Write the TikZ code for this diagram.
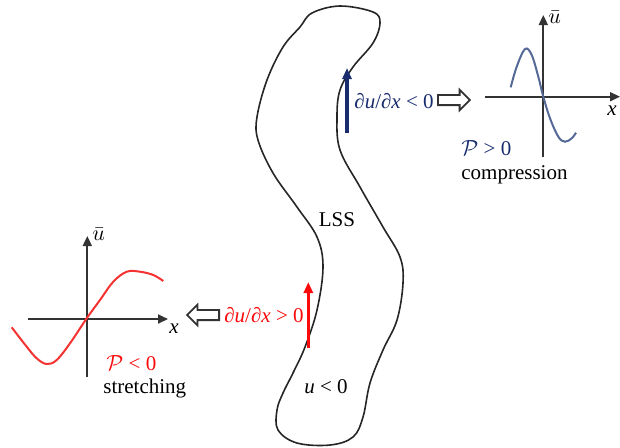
\documentclass[tikz,border=0pt]{standalone}
\usepackage{fontspec}
\setmainfont{Liberation Serif}
\usetikzlibrary{arrows.meta,shapes.arrows}
\definecolor{navy}{RGB}{25,45,110}
\definecolor{curveblue}{RGB}{85,105,150}
\definecolor{gradred}{RGB}{250,10,10}
\definecolor{curvered}{RGB}{245,50,50}

\begin{document}
\begin{tikzpicture}[x=0.5pt, y=-0.5pt,
    font=\fontsize{10.5}{12}\selectfont,
    axis/.style={-{Triangle[length=5pt,width=4.5pt]}, line width=0.9pt, black!80},
    grad/.style={-{Triangle[length=5.5pt,width=4.5pt]}, line width=1.6pt},
    hollow/.style={single arrow, draw=black!80, line width=0.9pt, fill=white, minimum height=16pt, minimum width=9.5pt, single arrow head extend=2.6pt, inner xsep=0pt, inner ysep=2.1pt},
    lbl/.style={inner sep=1pt}
]
\useasboundingbox (0,0) rectangle (620,447);

% LSS outline
\draw[line width=0.8pt, black!85] plot[smooth cycle, tension=0.6] coordinates {
  (312,13) (340,6) (373,12) (380,23) (373,43) (353,67) (340,90) (337,117)
  (340,150) (360,187) (383,227) (400,257) (403,283) (397,320) (383,350)
  (370,383) (363,417) (353,437) (330,445) (297,443) (278,430) (277,410)
  (283,393) (293,373) (305,347) (317,310) (323,267) (317,237) (297,207)
  (273,173) (258,140) (257,117) (267,80) (283,47) (300,27)};
\node[lbl] (lss) at (337,220) {LSS};
\node[lbl] (uneg) at (326,387) {\textit{u} < 0};

% compression side
\coordinate (bS) at (347,133);
\coordinate (bE) at (347,68);
\draw[grad, navy] (bS) -- (bE);
\node[lbl, navy, anchor=west] (dneg) at (352,101) {∂\textit{u}/∂\textit{x} < 0};
\node[hollow, anchor=tail] (harR) at (437,100) {};

\coordinate (oR) at (543.3,96.7);
\coordinate (xR0) at (485,96.7);
\coordinate (xR1) at (620,96.7);
\coordinate (yR0) at (543.3,157);
\coordinate (yR1) at (543.3,15);
\draw[axis] (xR0) -- (xR1);
\draw[axis] (yR0) -- (yR1);
\node[lbl, anchor=west] (ubarR) at (546,17) {$\bar{u}$};
\node[lbl] (xlabR) at (612,111) {\textit{x}};
\draw[curveblue, line width=1pt] plot[smooth, tension=0.6] coordinates {
  (510.7,87.3) (516.7,66.7) (525,49) (531.7,55) (538.3,76.7) (543.3,96.7)
  (550,118.3) (558.3,136.7) (565,141.7) (571.7,138.3) (576,132.7)};
\node[lbl, navy, anchor=west] (pgt) at (459,148) {$\mathcal{P}$ > 0};
\node[lbl, anchor=west] (comp) at (459,175) {compression};

% stretching side
\coordinate (rS) at (308.3,348);
\coordinate (rE) at (308.3,282);
\draw[grad, gradred] (rS) -- (rE);
\node[lbl, gradred, anchor=east] (dpos) at (306,315) {∂\textit{u}/∂\textit{x} > 0};
\node[hollow, anchor=tail, shape border rotate=180] (harL) at (220,315) {};

\coordinate (oL) at (87.3,319);
\coordinate (xL0) at (28.3,319);
\coordinate (xL1) at (168,319);
\coordinate (yL0) at (87.3,377);
\coordinate (yL1) at (87.3,236);
\draw[axis] (xL0) -- (xL1);
\draw[axis] (yL0) -- (yL1);
\node[lbl, anchor=west] (ubarL) at (90,234) {$\bar{u}$};
\node[lbl] (xlabL) at (174,329) {\textit{x}};
\draw[curvered, line width=1pt] plot[smooth, tension=0.6] coordinates {
  (11.7,327.3) (26.7,346.7) (36.7,358.3) (46.7,364) (56.7,360) (70,343.3)
  (86.7,318.3) (100,300) (113.3,281.7) (126.7,271.7) (140,271.7)
  (153.3,275) (163.3,281)};
\node[lbl, gradred, anchor=west] (plt) at (104,363) {$\mathcal{P}$ < 0};
\node[lbl, anchor=west] (stretch) at (101,388) {stretching};
\end{tikzpicture}
\end{document}
